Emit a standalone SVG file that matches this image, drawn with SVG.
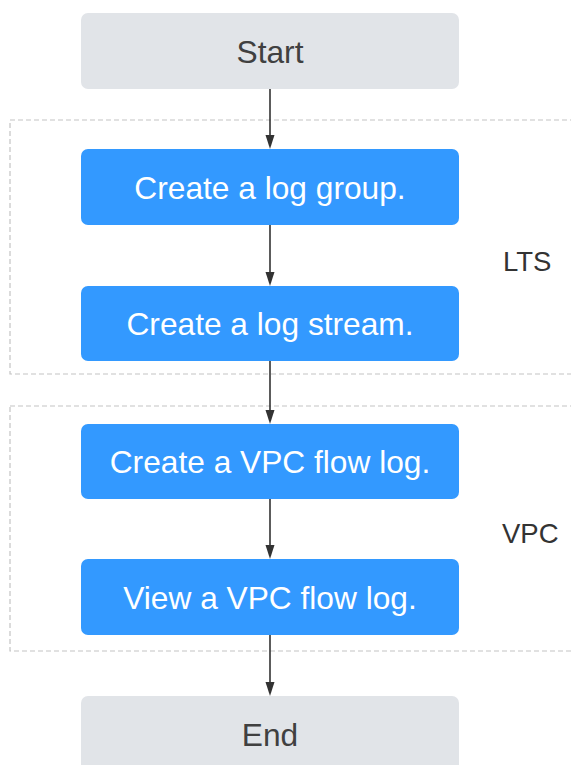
<svg xmlns="http://www.w3.org/2000/svg" width="571" height="765" viewBox="0 0 571 765">
<style>
.grp{fill:none;stroke:#c4c4c4;stroke-width:1.2;stroke-dasharray:5 3}
.term{fill:#e1e4e8}
.step{fill:#3399ff}
.t{font-family:"Liberation Sans",Arial,sans-serif;font-size:31.7px;text-anchor:middle}
.tg{fill:#404040}
.tw{fill:#ffffff}
.lbl{font-family:"Liberation Sans",Arial,sans-serif;font-size:27.5px;fill:#333333}
.edge{stroke:#333333;stroke-width:1.6;fill:none}
.head{fill:#333333}
</style>
<rect width="571" height="765" fill="#ffffff"/>
<g id="group-lts">
<rect class="grp" x="10" y="120" width="570" height="254"/>
<text class="lbl" x="503" y="271">LTS</text>
</g>
<g id="group-vpc">
<rect class="grp" x="10" y="406" width="570" height="245"/>
<text class="lbl" x="502" y="543">VPC</text>
</g>
<g id="connectors">
<path class="edge" d="M270,89 V136"/><path class="head" d="M265.5,135 H274.5 L270,149 Z"/>
<path class="edge" d="M270,225 V273"/><path class="head" d="M265.5,272 H274.5 L270,286 Z"/>
<path class="edge" d="M270,361 V411"/><path class="head" d="M265.5,410 H274.5 L270,424 Z"/>
<path class="edge" d="M270,499 V546"/><path class="head" d="M265.5,545 H274.5 L270,559 Z"/>
<path class="edge" d="M270,635 V683"/><path class="head" d="M265.5,682 H274.5 L270,696 Z"/>
</g>
<g id="start">
<rect class="term" x="81" y="13" width="378" height="76" rx="7"/>
<text class="t tg" x="270" y="63">Start</text>
</g>
<g id="create-log-group">
<rect class="step" x="81" y="149" width="378" height="76" rx="7"/>
<text class="t tw" x="270" y="198.5">Create a log group.</text>
</g>
<g id="create-log-stream">
<rect class="step" x="81" y="286" width="378" height="75" rx="7"/>
<text class="t tw" x="270" y="335">Create a log stream.</text>
</g>
<g id="create-flow-log">
<rect class="step" x="81" y="424" width="378" height="75" rx="7"/>
<text class="t tw" x="270" y="473">Create a VPC flow log.</text>
</g>
<g id="view-flow-log">
<rect class="step" x="81" y="559" width="378" height="76" rx="7"/>
<text class="t tw" x="270" y="608.5">View a VPC flow log.</text>
</g>
<g id="end">
<rect class="term" x="81" y="696" width="378" height="76" rx="7"/>
<text class="t tg" x="270" y="745.5">End</text>
</g>
</svg>
